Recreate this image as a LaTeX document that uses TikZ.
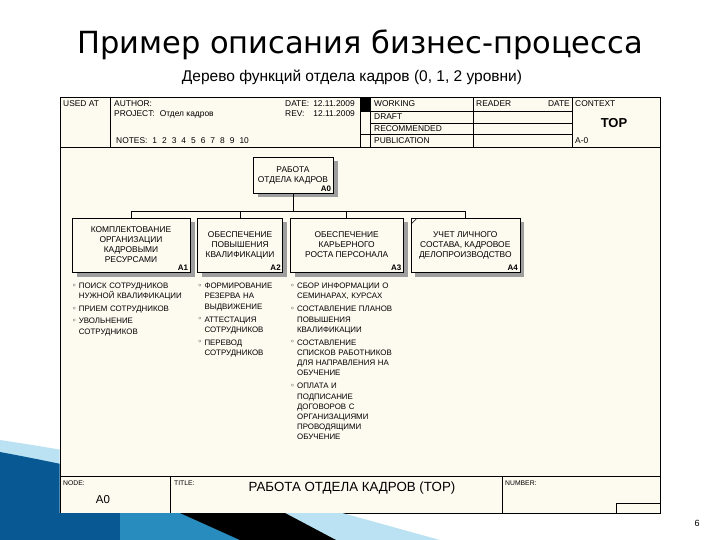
\documentclass[tikz,border=0pt]{standalone}
\usepackage{fontspec}
\setmainfont{Liberation Sans}
\newfontfamily\headfont{DejaVu Sans}
\newfontfamily\symfont{DejaVu Sans}
\usetikzlibrary{positioning, shadows, patterns, calc}

\definecolor{cream}{RGB}{253,250,240}
\definecolor{swoopdark}{RGB}{8,88,148}
\definecolor{swoopmid}{RGB}{40,140,190}
\definecolor{swooplight}{RGB}{96,190,226}
\definecolor{swooppale}{RGB}{186,226,242}

% one item of a level-2 list
\newcommand{\itm}[1]{\par\noindent\makebox[7pt][l]{\raisebox{0.5pt}{\symfont\fontsize{8}{8}\selectfont ◦}}\begin{tabular}[t]{@{}l@{}}#1\end{tabular}\par\vspace{1.8pt}}

\begin{document}
\begin{tikzpicture}[x=1pt, y=-1pt, node distance=7pt,
		every node/.style={inner sep=0pt},
		frame/.style={draw, line width=0.8pt},
		rule/.style={draw, line width=0.5pt},
		hdr/.style={anchor=west, font=\fontsize{8.4}{9}\selectfont},
		func/.style={draw, fill=cream, line width=0.6pt, minimum height=54pt, align=center,
			font=\fontsize{8.4}{10}\selectfont,
			general shadow={shadow xshift=4.5pt, shadow yshift=-4.5pt, fill=black!38},
			execute at end node={\\[2pt]\mbox{}}},
		fnum/.style={label={[anchor=south east, inner sep=2pt, font=\fontsize{8}{8}\selectfont\bfseries]south east:#1}},
		items/.style={text width=120pt, align=left, font=\fontsize{7.9}{10.2}\selectfont},
		wire/.style={draw, line width=0.5pt}]
	\useasboundingbox (0,0) rectangle (720,540);

	% titles
	\node[font=\headfont\fontsize{30.5}{33}\selectfont] (title) at (360,45) {Пример описания бизнес-процесса};
	\node[font=\fontsize{15.5}{17}\selectfont] (subtitle) at (352,77) {Дерево функций отдела кадров (0, 1, 2 уровни)};

	% form frame
	\path[frame, fill=cream] (60,97) rectangle (660,513);
	\draw[rule] (60,147) -- (660,147);
	\draw[rule] (110,97) -- (110,147);
	\fill (360,97) rectangle (370,111);
	\draw[rule] (360,97) -- (360,147);
	\draw[rule] (370,97) -- (370,147);
	\draw[rule] (473,97) -- (473,147);
	\draw[rule] (572,97) -- (572,147);
	\draw[rule] (360,111) -- (572,111);
	\draw[rule] (370,123) -- (572,123);
	\draw[rule] (360,134) -- (572,134);

	\node[hdr] (usedat) at (63,104) {USED AT};
	\node[hdr] (author) at (114,104) {AUTHOR:};
	\node[hdr] (project) at (114,114) {PROJECT:\hspace{5pt}Отдел кадров};
	\node[hdr] (notes) at (116,141) {NOTES:\hspace{5pt}1\hspace{5pt}2\hspace{5pt}3\hspace{5pt}4\hspace{5pt}5\hspace{5pt}6\hspace{5pt}7\hspace{5pt}8\hspace{5pt}9\hspace{5pt}10};
	\node[hdr] (date) at (285,104) {DATE:\hspace{4pt}12.11.2009};
	\node[hdr] (rev) at (285,114) {REV:\hspace{9pt}12.11.2009};
	\node[hdr] (working) at (374,104) {WORKING};
	\node[hdr] (draft) at (374,117) {DRAFT};
	\node[hdr] (recommended) at (374,128.5) {RECOMMENDED};
	\node[hdr] (publication) at (374,140.5) {PUBLICATION};
	\node[hdr] (reader) at (476,104) {READER};
	\node[hdr, anchor=east] (rdate) at (570,104) {DATE};
	\node[hdr] (context) at (575,104) {CONTEXT};
	\node[font=\fontsize{13}{14}\selectfont\bfseries] (top) at (614,123) {TOP};
	\node[hdr] (ctxnum) at (575,140.5) {A-0};

	% function tree
	\node[func, minimum width=80pt, minimum height=36pt, fnum=A0] (a0) at (293,175) {РАБОТА\\ОТДЕЛА КАДРОВ};
	\node[func, minimum width=118pt, fnum=A1] (a1) at (131,245) {КОМПЛЕКТОВАНИЕ\\ОРГАНИЗАЦИИ\\КАДРОВЫМИ\\РЕСУРСАМИ};
	\node[func, minimum width=85pt, right=of a1, fnum=A2] (a2) {ОБЕСПЕЧЕНИЕ\\ПОВЫШЕНИЯ\\КВАЛИФИКАЦИИ};
	\node[func, minimum width=113pt, right=of a2, fnum=A3] (a3) {ОБЕСПЕЧЕНИЕ\\КАРЬЕРНОГО\\РОСТА ПЕРСОНАЛА};
	\node[func, minimum width=109pt, right=of a3, fnum=A4] (a4) {УЧЕТ ЛИЧНОГО\\СОСТАВА, КАДРОВОЕ\\ДЕЛОПРОИЗВОДСТВО};
	\draw[rule] ([xshift=1pt,yshift=-6pt]a4.north west) -- ([xshift=6pt,yshift=-1pt]a4.north west);
	\foreach \to in {a1,a2,a3,a4}
		\draw[wire] (a0.south) -- ++(0,18) -| (\to.north);

	% second level
	\node[items, below=6pt of a1.south west, anchor=north west] (list1) {%
		\itm{ПОИСК СОТРУДНИКОВ\\НУЖНОЙ КВАЛИФИКАЦИИ}
		\itm{ПРИЕМ СОТРУДНИКОВ}
		\itm{УВОЛЬНЕНИЕ\\СОТРУДНИКОВ}};
	\node[items, below=6pt of a2.south west, anchor=north west] (list2) {%
		\itm{ФОРМИРОВАНИЕ\\РЕЗЕРВА НА\\ВЫДВИЖЕНИЕ}
		\itm{АТТЕСТАЦИЯ\\СОТРУДНИКОВ}
		\itm{ПЕРЕВОД\\СОТРУДНИКОВ}};
	\node[items, below=6pt of a3.south west, anchor=north west] (list3) {%
		\itm{СБОР ИНФОРМАЦИИ О\\СЕМИНАРАХ, КУРСАХ}
		\itm{СОСТАВЛЕНИЕ ПЛАНОВ\\ПОВЫШЕНИЯ\\КВАЛИФИКАЦИИ}
		\itm{СОСТАВЛЕНИЕ\\СПИСКОВ РАБОТНИКОВ\\ДЛЯ НАПРАВЛЕНИЯ НА\\ОБУЧЕНИЕ}
		\itm{ОПЛАТА И\\ПОДПИСАНИЕ\\ДОГОВОРОВ С\\ОРГАНИЗАЦИЯМИ\\ПРОВОДЯЩИМИ\\ОБУЧЕНИЕ}};

	% title block
	\draw[rule] (60,476) -- (660,476);
	\draw[rule] (170,476) -- (170,513);
	\draw[rule] (502,476) -- (502,513);
	\draw[rule] (616,503) rectangle (660,513);
	\node[hdr, font=\fontsize{6.8}{7}\selectfont] (nodelbl) at (63,483) {NODE:};
	\node[font=\fontsize{11.5}{12}\selectfont] (nodenum) at (103,500) {A0};
	\node[hdr, font=\fontsize{6.8}{7}\selectfont] (titlelbl) at (174,483) {TITLE:};
	\node[font=\fontsize{13.3}{14}\selectfont] (formtitle) at (352,488) {РАБОТА ОТДЕЛА КАДРОВ (TOP)};
	\node[hdr, font=\fontsize{6.8}{7}\selectfont] (numberlbl) at (505,483) {NUMBER:};

	\node[font=\fontsize{9}{10}\selectfont] (page) at (697,523) {6};

	% slide decoration, outside the form only
	\begin{scope}
		\clip (0,430) rectangle (59.6,540);
		\fill[swooppale] (0,440) .. controls (200,470) and (330,510) .. (440,540) -- (0,540) -- cycle;
		\fill[swoopdark] (0,452) .. controls (150,480) and (260,512) .. (330,540) -- (0,540) -- cycle;
	\end{scope}
	\begin{scope}
		\clip (0,513.4) rectangle (460,540);
		\fill[swooppale] (0,440) .. controls (200,470) and (330,510) .. (440,540) -- (0,540) -- cycle;
		\fill[swoopmid] (0,452) .. controls (150,480) and (260,512) .. (330,540) -- (0,540) -- cycle;
		\fill[swoopdark] (0,513) rectangle (120,540);
		\fill[black] (180,513) -- (285,513) -- (336,540) -- (240,540) -- cycle;
	\end{scope}
\end{tikzpicture}
\end{document}
